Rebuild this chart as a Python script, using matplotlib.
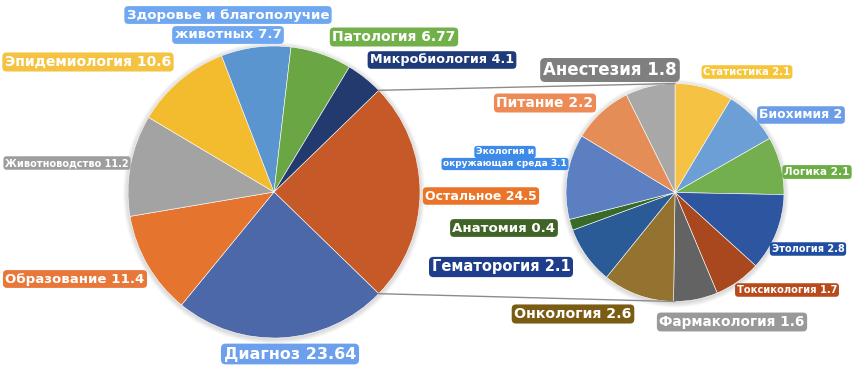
import matplotlib
matplotlib.use("Agg")
import matplotlib.pyplot as plt
import numpy as np

# ---- data ----
main_labels = ["Остальное", "Диагноз", "Образование", "Животноводство",
               "Эпидемиология", "Здоровье и благополучие\nживотных", "Патология",
               "Микробиология"]
main_values = [24.5, 23.64, 11.4, 11.2, 10.6, 7.7, 6.77, 4.1]
main_value_text = ["24.5", "23.64", "11.4", "11.2", "10.6", "7.7", "6.77", "4.1"]

sub_labels = ["Статистика", "Биохимия", "Логика", "Этология", "Токсикология",
              "Фармакология", "Онкология", "Гематорогия", "Анатомия",
              "Экология и\nокружающая среда", "Питание", "Анестезия"]
sub_values = [2.1, 2, 2.1, 2.8, 1.7, 1.6, 2.6, 2.1, 0.4, 3.1, 2.2, 1.8]
sub_value_text = ["2.1", "2", "2.1", "2.8", "1.7", "1.6", "2.6", "2.1", "0.4",
                  "3.1", "2.2", "1.8"]

# ---- styles ----
main_colors = ["#C55A28", "#4C68A8", "#E5742F", "#A3A3A3", "#F3BC2E",
               "#5B95D0", "#6AA744", "#233A6E"]
main_box = ["#EB7428", "#6C9FEC", "#E8773A", "#9E9E9E", "#F5C342",
            "#6FA8F0", "#72B04A", "#1F3A78"]
# label centers in pixel coords (x, y from top), font sizes, line step (px)
main_pos = [(481, 196), (290, 354), (75, 279), (67, 163), (88, 62),
            (228, 25), (394, 37), (442, 60)]
main_fs = [9.0, 11.5, 9.6, 7.0, 10.1, 9.6, 10.0, 9.2]
main_step = [0, 0, 0, 0, 0, 20, 0, 0]

sub_colors = ["#F5C243", "#6C9FD6", "#74AF4F", "#2D55A0", "#A9481E",
              "#636363", "#94722F", "#2B5B96", "#3A6A2A", "#5B7FC0",
              "#E58D56", "#A8A8A8"]
sub_box = ["#F6C53A", "#6D9CE8", "#6BAE45", "#1F4EA0", "#B94A1C",
           "#999999", "#7A5C14", "#1E3E8C", "#3F6426", "#3D8AE8",
           "#EE8A55", "#7F7F7F"]
sub_pos = [(747, 72), (801, 115), (817, 172), (808, 249), (787, 290),
           (732, 322), (573, 314), (501, 267), (504, 228), (505, 158),
           (545, 103), (610, 70)]
sub_fs = [7.2, 9.0, 7.6, 7.0, 7.1, 9.8, 10.2, 10.5, 9.6, 6.5, 10.0, 12.0]
sub_step = [0, 0, 0, 0, 0, 0, 0, 0, 0, 12, 0, 0]

W, H = 860, 376
fig = plt.figure(figsize=(W / 100, H / 100), dpi=100)
ax = fig.add_axes([0, 0, 1, 1])

main_c = (274, H - 192)
main_r = 146
sub_c = (675, H - 192.5)
sub_r = 109

# soft shadows
for c, r in [(main_c, main_r), (sub_c, sub_r)]:
    for k in range(6):
        ax.add_patch(plt.Circle((c[0], c[1] - 1), r + 1 + k * 0.8,
                                color="#000000", alpha=0.022, lw=0, zorder=0))

start_main = main_values[0] / sum(main_values) * 360 / 2
wedges_m, _ = ax.pie(main_values, colors=main_colors, center=main_c, radius=main_r,
                     startangle=start_main, counterclock=False,
                     wedgeprops=dict(edgecolor="#ffffff", linewidth=0.4),
                     frame=True)
wedges_s, _ = ax.pie(sub_values, colors=sub_colors, center=sub_c, radius=sub_r,
                     startangle=90, counterclock=False,
                     wedgeprops=dict(edgecolor="#ffffff", linewidth=0.4),
                     frame=True)
ax.set_xlim(0, W)
ax.set_ylim(0, H)
ax.set_aspect("equal")
ax.axis("off")

# connector lines
w0 = wedges_m[0]
for ang, target in [(w0.theta2, (sub_c[0], sub_c[1] + sub_r)),
                    (w0.theta1, (sub_c[0], sub_c[1] - sub_r))]:
    x0 = main_c[0] + main_r * np.cos(np.radians(ang))
    y0 = main_c[1] + main_r * np.sin(np.radians(ang))
    ax.plot([x0, target[0]], [y0, target[1]], color="#8C8C8C", lw=1.0, zorder=1)


def put(label, val, pos, fs, col, step):
    lines = f"{label} {val}".split("\n")
    n = len(lines)
    for i, ln in enumerate(lines):
        y = pos[1] + (i - (n - 1) / 2) * step
        ax.text(pos[0], H - y, ln, ha="center", va="center",
                fontsize=fs, color="white", fontweight="bold", family="DejaVu Sans",
                zorder=5,
                bbox=dict(boxstyle="round,pad=0.18,rounding_size=0.3", fc=col,
                          ec="none"))


for lab, v, p, fs, col, st in zip(main_labels, main_value_text, main_pos, main_fs,
                                  main_box, main_step):
    put(lab, v, p, fs, col, st)
for lab, v, p, fs, col, st in zip(sub_labels, sub_value_text, sub_pos, sub_fs,
                                  sub_box, sub_step):
    put(lab, v, p, fs, col, st)

fig.savefig("out.png", dpi=100, facecolor="white")
